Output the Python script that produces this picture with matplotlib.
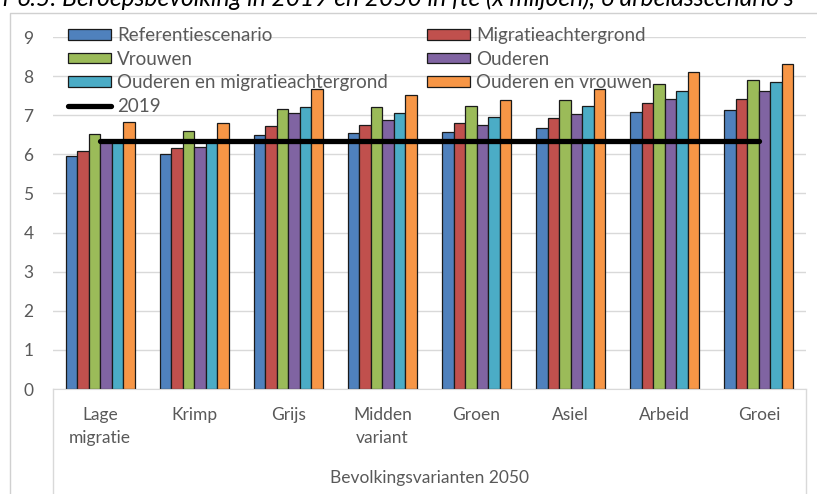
import numpy as np
import matplotlib
matplotlib.use("Agg")
import matplotlib.pyplot as plt
from matplotlib.lines import Line2D

plt.rcParams["font.family"] = ["Lato", "DejaVu Sans"]

# Data
categories = ["Lage\nmigratie", "Krimp", "Grijs", "Midden\nvariant", "Groen", "Asiel", "Arbeid", "Groei"]
series_names = ["Referentiescenario", "Migratieachtergrond", "Vrouwen", "Ouderen",
                "Ouderen en migratieachtergrond", "Ouderen en vrouwen"]
referentie = [5.95, 6.02, 6.50, 6.54, 6.57, 6.68, 7.07, 7.13]
migratie = [6.09, 6.16, 6.72, 6.76, 6.79, 6.93, 7.32, 7.42]
vrouwen = [6.53, 6.60, 7.17, 7.20, 7.24, 7.38, 7.79, 7.90]
ouderen = [6.33, 6.19, 7.06, 6.89, 6.74, 7.03, 7.41, 7.63]
ouderen_migratie = [6.36, 6.36, 7.20, 7.06, 6.96, 7.24, 7.62, 7.84]
ouderen_vrouwen = [6.82, 6.79, 7.68, 7.51, 7.38, 7.68, 8.11, 8.32]
line_2019 = [6.34] * 8

colors = ["#4F81BD", "#C0504D", "#9BBB59", "#8064A2", "#4BACC6", "#F79646"]
all_series = [referentie, migratie, vrouwen, ouderen, ouderen_migratie, ouderen_vrouwen]

fig = plt.figure(figsize=(8.17, 4.94), dpi=100)
ax = fig.add_axes([53 / 817, 1 - 389 / 494, 753 / 817, (389 - 37) / 494])

x = np.arange(len(categories))
bw = 0.122
bars = []
for i, (vals, c) in enumerate(zip(all_series, colors)):
    b = ax.bar(x + (i - 2.5) * bw, vals, bw, color=c, edgecolor="#1a1a1a", linewidth=0.9, zorder=2)
    bars.append(b)
ln, = ax.plot(x, line_2019, color="black", linewidth=3.8, zorder=3, solid_capstyle="round")

ax.set_xlim(-0.5, len(categories) - 0.5)
ax.set_ylim(0, 9)
ax.set_yticks(range(0, 10))
ax.yaxis.grid(True, color="#D9D9D9", linewidth=1)
ax.set_axisbelow(True)
for s in ["top", "right", "left"]:
    ax.spines[s].set_visible(False)
ax.spines["bottom"].set_color("#D9D9D9")
ax.tick_params(axis="both", length=0, colors="#595959", labelsize=12.5)
ax.tick_params(axis="y", pad=14)
ax.set_xticks(x)
ax.set_xticklabels(categories, linespacing=1.55)
ax.tick_params(axis="x", pad=13)
ax.set_xlabel("Bevolkingsvarianten 2050", color="#595959", fontsize=12.5, labelpad=17)

# category axis box lines
for xa in [0, 1]:
    ax.add_line(Line2D([xa, xa], [0, -0.4], transform=ax.transAxes, color="#D9D9D9",
                       linewidth=1, clip_on=False))

# chart area border
fig.add_artist(Line2D([10 / 817, 10 / 817, 1.0], [0, 1 - 13 / 494, 1 - 13 / 494],
                      transform=fig.transFigure, color="#D0D0D0", linewidth=1))

# title, cut off at the top edge as in the screenshot
fig.text(3 / 817, 1 - 6 / 494, "r 6.5: Beroepsbevolking in 2019 en 2050 in fte (x miljoen), 6 arbeidsscenario's",
         fontsize=17.7, style="italic", color="black", ha="left", va="baseline")

handles = [bars[0], bars[2], bars[4], ln, bars[1], bars[3], bars[5]]
labels = [series_names[0], series_names[2], series_names[4], "2019",
          series_names[1], series_names[3], series_names[5]]
leg = ax.legend(handles, labels, ncol=2, loc="upper left", bbox_to_anchor=(0.01, 1.05),
                frameon=False, fontsize=13.5, handlelength=2.3, handleheight=0.5,
                labelspacing=0.36, columnspacing=2.1, handletextpad=0.3, borderaxespad=0)
for t in leg.get_texts():
    t.set_color("#595959")

fig.savefig("out.png", dpi=100)
